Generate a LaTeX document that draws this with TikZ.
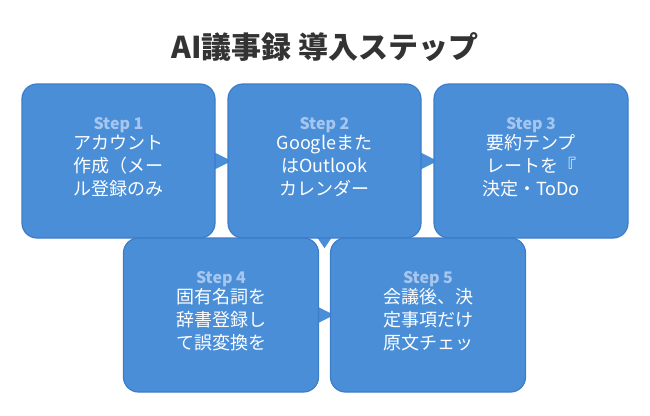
\documentclass[tikz,border=0pt]{standalone}
\usepackage{fontspec}
\setmainfont{Noto Sans CJK JP}
\usetikzlibrary{arrows.meta,calc,backgrounds}
\definecolor{boxfill}{HTML}{4A8ED8}
\definecolor{boxline}{HTML}{3D7CC9}
\definecolor{steplbl}{HTML}{A6C6EE}
\definecolor{titlec}{HTML}{333333}
\newcommand{\steplabelfont}{\fontsize{16}{16}\selectfont\bfseries\color{steplbl}}
\begin{document}
\begin{tikzpicture}[x=1pt,y=-1pt,
  stepbox/.style={draw=boxline, line width=1.2pt, fill=boxfill, rounded corners=15pt,
    minimum width=193pt, minimum height=154pt, inner sep=0pt},
  boxtext/.style={align=center, text=white, font=\fontsize{18}{23}\selectfont},
  conn/.style={draw=boxfill, line width=0.1pt, -{Triangle[width=20pt,length=20pt,fill=boxfill]}},
  connv/.style={draw=boxfill, line width=0.1pt, -{Triangle[width=15pt,length=11pt,fill=boxfill]}}
]
\useasboundingbox (0,0) rectangle (650,415);
\node[font=\fontsize{30}{30}\selectfont\bfseries, text=titlec] (title) at (325,47) {AI議事録 導入ステップ};

\node[stepbox] (b1) at (118.5,161) {};
\node[stepbox] (b2) at (324.5,161) {};
\node[stepbox, minimum width=194pt] (b3) at (531,161) {};
\node[stepbox, minimum width=195pt] (b4) at (221,315) {};
\node[stepbox, minimum width=195pt] (b5) at (428,315) {};

\node[boxtext] (t1) at (118.5,157.5) {{\steplabelfont Step 1}\\[-3pt]アカウント\\作成（メー\\ル登録のみ};
\node[boxtext] (t2) at (324.5,157.5) {{\steplabelfont Step 2}\\[-3pt]Googleまた\\はOutlook\\カレンダー};
\node[boxtext] (t3) at (531,157.5) {{\steplabelfont Step 3}\\[-3pt]要約テンプ\\レートを『\\決定・ToDo};
\node[boxtext] (t4) at (221,311.5) {{\steplabelfont Step 4}\\[-3pt]固有名詞を\\辞書登録し\\て誤変換を};
\node[boxtext] (t5) at (428,311.5) {{\steplabelfont Step 5}\\[-3pt]会議後、決\\定事項だけ\\原文チェッ};

\coordinate (v) at (324.5,248);
\begin{pgfonlayer}{background}
\draw[conn, shorten >=-4pt] (b1) -- (b2);
\draw[conn, shorten >=-4pt] (b2) -- (b3);
\draw[connv] (b2) -- (v);
\draw[conn, shorten >=-4pt] (b4) -- (b5);
\end{pgfonlayer}
\end{tikzpicture}
\end{document}
